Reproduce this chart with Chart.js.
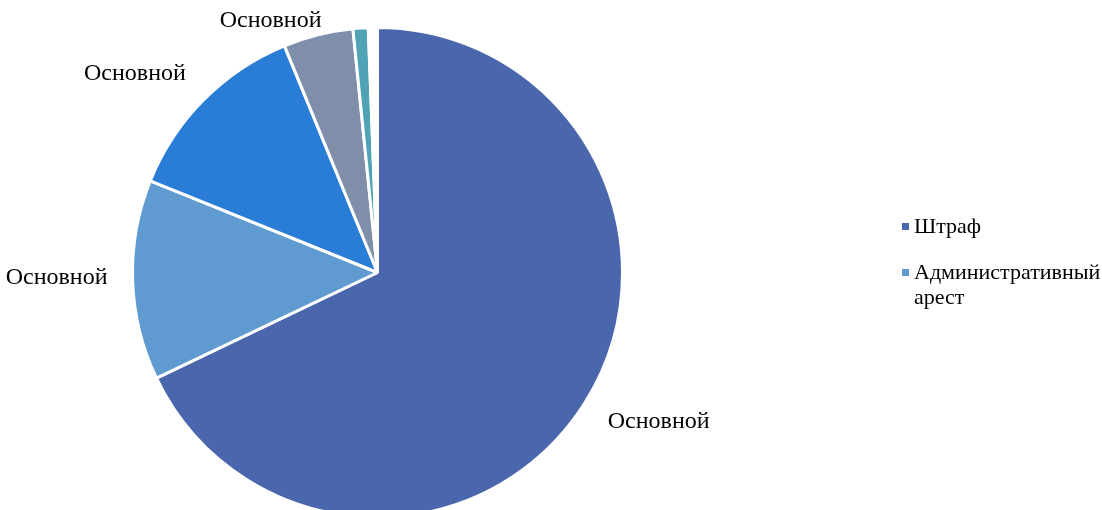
<!DOCTYPE html>
<html>
<head>
<meta charset="utf-8">
<script src="https://cdn.jsdelivr.net/npm/chart.js@4/dist/chart.umd.min.js"></script>
<style>
  html, body { margin: 0; padding: 0; background: #fff; overflow: hidden; }
  #wrap { width: 1102px; height: 510px; position: relative; overflow: hidden; }
</style>
</head>
<body>
<div id="wrap"><canvas id="c" width="1102" height="530"></canvas></div>
<script>
// values (share of total, %)
var categories = ['Штраф', 'Административный арест', 'Категория 3', 'Категория 4', 'Категория 5', 'Категория 6'];
var values = [67.9, 13.2, 12.7, 4.6, 1.0, 0.6];
var dataLabels = ['Основной', 'Основной', 'Основной', 'Основной', '', ''];
var colors = ['#4a66ac', '#5f9bd0', '#2a7dd6', '#7f8faa', '#4fa3b4', '#ffffff'];
var legendCount = 2; // only the first two entries fit in the legend

// label placement: radius factor and angle shift (deg) per slice
var labelRadius = [1.30, 1.31, 1.28, 1.115, 1.3, 1.3];
var labelShift = [-4.2, 0.8, -5.5, -9, 0, 0];

var FONT = '"Liberation Serif", "Times New Roman", serif';

var sliceLabels = {
  id: 'sliceLabels',
  afterDatasetsDraw: function(chart){
    var ctx = chart.ctx;
    var meta = chart.getDatasetMeta(0);
    ctx.save();
    ctx.font = '24px ' + FONT;
    ctx.fillStyle = '#000';
    ctx.textAlign = 'center';
    ctx.textBaseline = 'middle';
    meta.data.forEach(function(arc, i){
      if(!dataLabels[i]) return;
      var p = arc.getProps(['x','y','startAngle','endAngle','outerRadius'], true);
      var mid = (p.startAngle + p.endAngle)/2 + labelShift[i]*Math.PI/180;
      var r = p.outerRadius * labelRadius[i];
      ctx.fillText(dataLabels[i], p.x + Math.cos(mid)*r, p.y + Math.sin(mid)*r);
    });
    ctx.restore();
  }
};

var sideLegend = {
  id: 'sideLegend',
  afterDraw: function(chart){
    var ctx = chart.ctx;
    var x = 902, y = 227, maxW = 195, lh = 25;
    ctx.save();
    ctx.font = '22px ' + FONT;
    ctx.textBaseline = 'middle';
    for(var i=0;i<legendCount;i++){
      ctx.fillStyle = colors[i];
      ctx.fillRect(x, y-4, 7, 7);
      ctx.fillStyle = '#000';
      var words = categories[i].split(' ');
      var line = '';
      var lines = [];
      for(var w=0; w<words.length; w++){
        var test = line ? line + ' ' + words[w] : words[w];
        if(ctx.measureText(test).width > maxW && line){ lines.push(line); line = words[w]; }
        else line = test;
      }
      lines.push(line);
      for(var l=0;l<lines.length;l++){
        ctx.fillText(lines[l], x+12, y + l*lh);
      }
      y += 46 + (lines.length-1)*lh;
    }
    ctx.restore();
  }
};

new Chart(document.getElementById('c'), {
  type: 'pie',
  data: {
    labels: categories,
    datasets: [{
      data: values,
      backgroundColor: colors,
      borderColor: '#ffffff',
      borderWidth: 3
    }]
  },
  options: {
    responsive: false,
    animation: false,
    layout: { padding: { left: 131, right: 478, top: 26, bottom: 11 } },
    plugins: {
      legend: { display: false },
      tooltip: { enabled: false }
    }
  },
  plugins: [sliceLabels, sideLegend]
});
</script>
</body>
</html>
